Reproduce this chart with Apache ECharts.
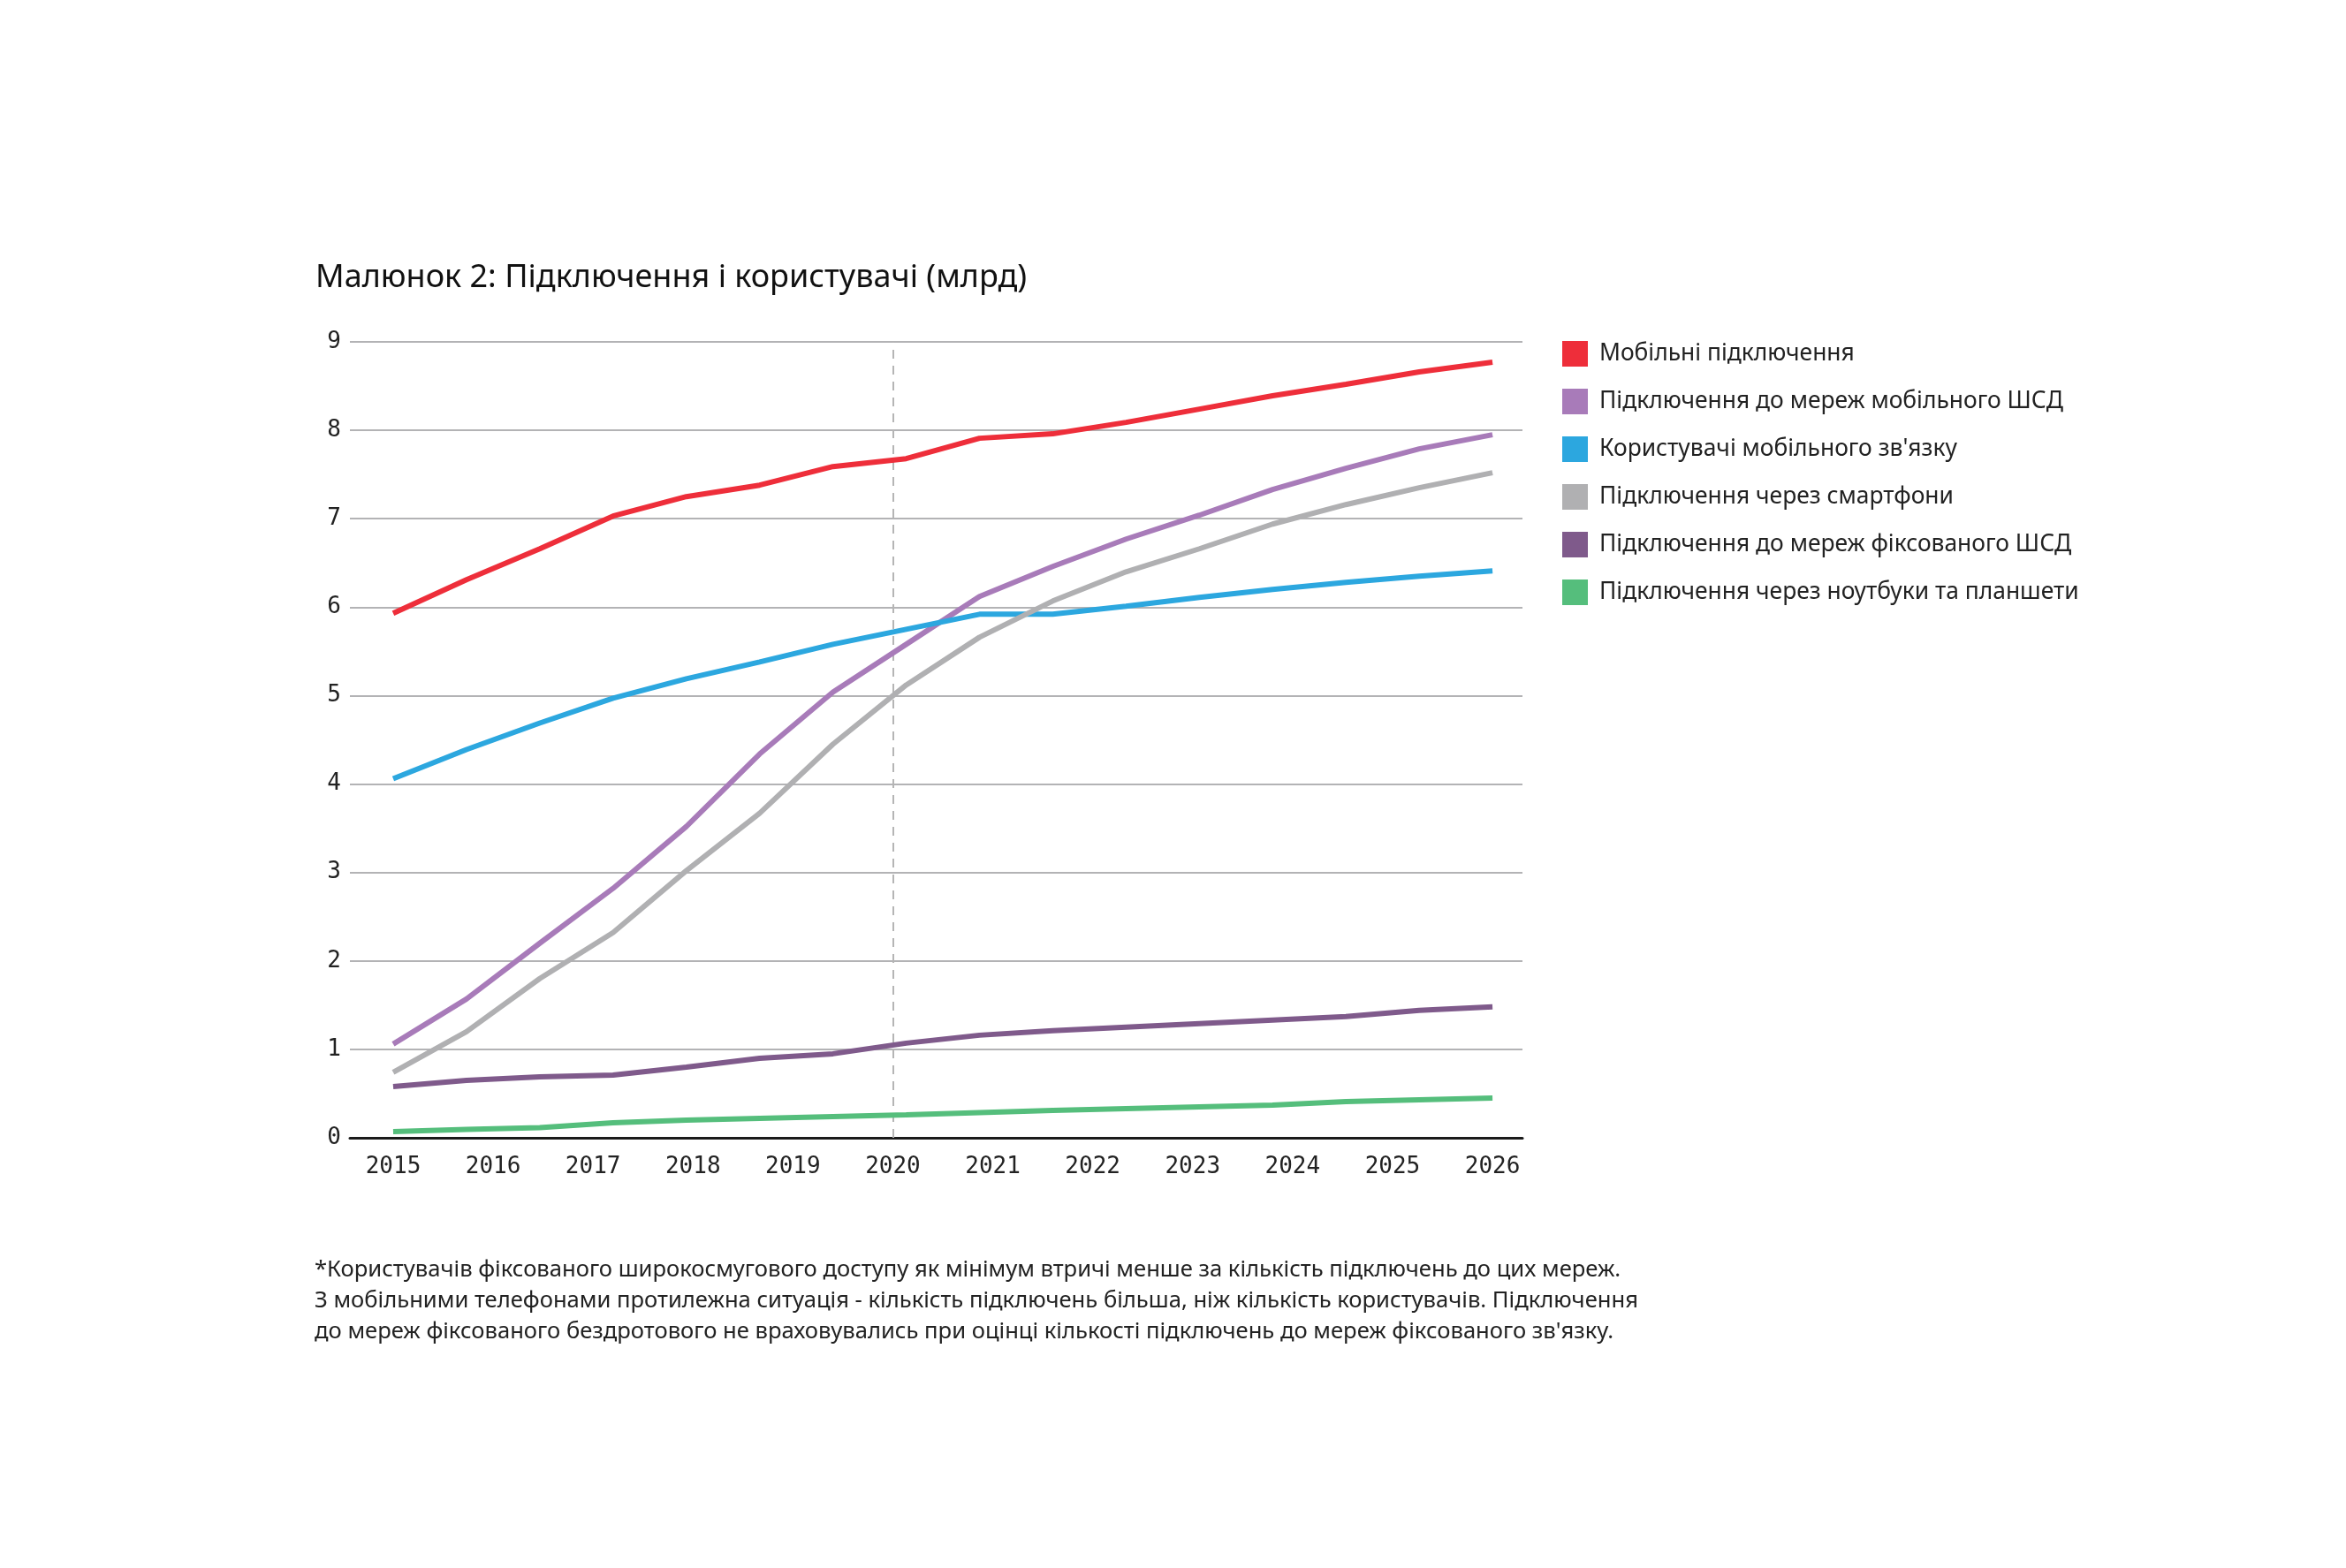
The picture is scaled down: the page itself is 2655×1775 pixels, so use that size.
<!DOCTYPE html>
<html>
<head>
<meta charset="utf-8">
<title>Підключення і користувачі</title>
<script src="https://cdn.jsdelivr.net/npm/echarts@6/dist/echarts.min.js"></script>
<style>
  html, body { margin: 0; padding: 0; background: #fff; }
  #chart { width: 2655px; height: 1775px; }
</style>
</head>
<body>
<div id="chart"></div>
<script>
// Роки на осі X та точки вибірки (16 рівномірних точок між 2015 і 2026)
const years = [2015, 2016, 2017, 2018, 2019, 2020, 2021, 2022, 2023, 2024, 2025, 2026];
const samples = 16;

const seriesNames = [
    'Мобільні підключення',
    'Підключення до мереж мобільного ШСД',
    'Користувачі мобільного зв\'язку',
    'Підключення через смартфони',
    'Підключення до мереж фіксованого ШСД',
    'Підключення через ноутбуки та планшети'
];
const seriesColors = ['#ee2e3a', '#a87bb9', '#2ca7df', '#b0b0b2', '#7f5a8b', '#55be7c'];

// млрд
const mobileConnections = [5.93, 6.31, 6.66, 7.03, 7.25, 7.38, 7.59, 7.68, 7.91, 7.96, 8.09, 8.24, 8.39, 8.52, 8.66, 8.77];
const mobileBroadband   = [1.06, 1.57, 2.20, 2.82, 3.52, 4.34, 5.04, 5.58, 6.12, 6.46, 6.77, 7.04, 7.33, 7.57, 7.79, 7.95];
const mobileUsers       = [4.06, 4.39, 4.69, 4.97, 5.19, 5.38, 5.58, 5.75, 5.92, 5.92, 6.01, 6.11, 6.20, 6.28, 6.35, 6.41];
const smartphones       = [0.74, 1.20, 1.80, 2.32, 3.02, 3.67, 4.45, 5.12, 5.66, 6.07, 6.40, 6.66, 6.94, 7.16, 7.35, 7.52];
const fixedBroadband    = [0.58, 0.65, 0.69, 0.71, 0.80, 0.90, 0.95, 1.07, 1.16, 1.21, 1.25, 1.29, 1.33, 1.37, 1.44, 1.48];
const laptopsTablets    = [0.07, 0.095, 0.115, 0.17, 0.20, 0.22, 0.24, 0.26, 0.285, 0.31, 0.33, 0.35, 0.37, 0.41, 0.43, 0.45];

const allValues = [mobileConnections, mobileBroadband, mobileUsers, smartphones, fixedBroadband, laptopsTablets];

const firstYear = years[0];
const lastYear = years[years.length - 1];
const xAt = i => firstYear + i * (lastYear - firstYear) / (samples - 1);

const footnote = [
    '*Користувачів фіксованого широкосмугового доступу як мінімум втричі менше за кількість підключень до цих мереж.',
    'З мобільними телефонами протилежна ситуація - кількість підключень більша, ніж кількість користувачів. Підключення',
    'до мереж фіксованого бездротового не враховувались при оцінці кількості підключень до мереж фіксованого зв\'язку.'
];

const textFont = '"Noto Sans", sans-serif';
const monoFont = '"DejaVu Sans Mono", monospace';

const series = allValues.map((vals, k) => ({
    name: seriesNames[k],
    type: 'line',
    data: vals.map((v, i) => [xAt(i), v]),
    symbol: 'none',
    smooth: false,
    lineStyle: { width: 6, color: seriesColors[k] },
    itemStyle: { color: seriesColors[k] },
    z: 3
}));

// вертикальна пунктирна лінія на 2020
series[0].markLine = {
    silent: true,
    symbol: 'none',
    label: { show: false },
    lineStyle: { type: [10, 8], color: '#b5b5b5', width: 2 },
    data: [{ xAxis: 2020 }],
    z: 1
};

const myChart = echarts.init(document.getElementById('chart'));
myChart.setOption({
    backgroundColor: '#ffffff',
    animation: false,
    title: {
        text: 'Малюнок 2: Підключення і користувачі (млрд)',
        left: 352,
        top: 292,
        textStyle: { fontFamily: textFont, fontSize: 36, fontWeight: 'normal', color: '#111' }
    },
    legend: {
        orient: 'vertical',
        left: 1768,
        top: 386,
        padding: 0,
        icon: 'rect',
        itemWidth: 29,
        itemHeight: 29,
        itemGap: 25,
        data: seriesNames,
        textStyle: { fontFamily: textFont, fontSize: 26.4, color: '#222', padding: [0, 0, 0, 8] }
    },
    grid: { left: 396, right: 932, top: 387, bottom: 487, containLabel: false },
    xAxis: {
        type: 'value',
        min: 2014.567,
        max: 2026.30,
        axisLine: { show: true, lineStyle: { color: '#1a1a1a', width: 3 } },
        axisTick: { show: false },
        splitLine: { show: false },
        axisLabel: {
            customValues: years,
            margin: 20,
            fontFamily: monoFont,
            fontSize: 26,
            color: '#222',
            formatter: v => String(v)
        }
    },
    yAxis: {
        type: 'value',
        min: 0,
        max: 9,
        interval: 1,
        axisLine: { show: false },
        axisTick: { show: false },
        splitLine: { lineStyle: { color: '#b3b3b5', width: 2 } },
        axisLabel: { margin: 10, fontFamily: monoFont, fontSize: 26, color: '#222' }
    },
    graphic: [{
        type: 'text',
        left: 356,
        top: 1420,
        style: {
            text: footnote.join('\n'),
            font: '25.6px ' + textFont,
            fill: '#222',
            lineHeight: 35
        }
    }],
    series: series
});
window.addEventListener('resize', () => myChart.resize());
</script>
</body>
</html>
